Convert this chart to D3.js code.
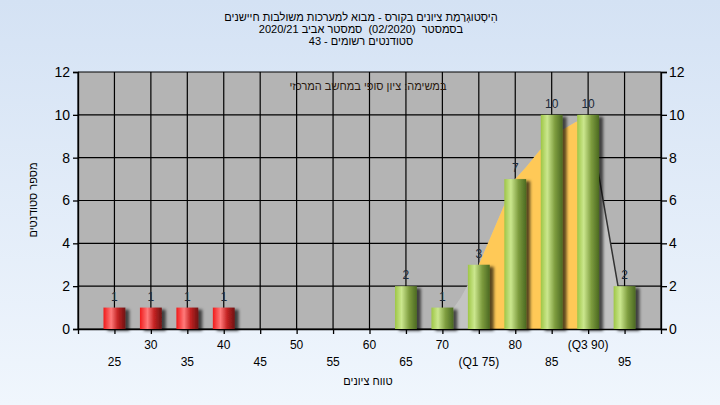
<!DOCTYPE html>
<html><head><meta charset="utf-8">
<script src="https://cdn.jsdelivr.net/npm/d3@7"></script>
<style>html,body{margin:0;padding:0;}svg{display:block;font-family:"Liberation Sans",Arial,sans-serif;}</style>
</head><body>
<svg id="chart" width="720" height="405"></svg>
<script>
// ---- data ----
const categories = [25,30,35,40,45,50,55,60,65,70,75,80,85,90,95];
const counts     = [1, 1, 1, 1, 0, 0, 0, 0, 2, 1, 3, 7, 10,10,2];
const failBelow = 55;
const q1 = 75, q3 = 90;
const yTicks = [0,2,4,6,8,10,12];
const xTicks = [20,25,30,35,40,45,50,55,60,65,70,75,80,85,90,95,100];
const upperRowLabels = [30,40,50,60,70,80,90];
const lowerRowLabels = [25,35,45,55,65,75,85,95];
const specialLabels = {75:"(Q1 75)", 90:"(Q3 90)"};
// distribution curve
const curveX = [69.5,72.5,74,75,80,81.5,83.4,86.5,88.3,89.6,90.3,91.3,94.1,95];
const curveY = [0,1.45,2.38,3,7,7.57,8.36,9.3,9.67,9.8,9.6,7.5,2,0.3];
const titleLines = ["הִיסְטוגְרַמַת ציונים בקורס - מבוא למערכות משולבות חיישנים",
                    "בסמסטר  (02/2020)  סמסטר אביב 2020/21",
                    "סטודנטים רשומים - 43"];
const subTitle = "במשימה: ציון סופי במחשב המרכזי";
const yTitle = "מספר סטודנטים";
const xTitle = "טווח ציונים";

// ---- layout ----
const svg = d3.select("#chart");
const L = 78, R = 661, T = 72, B = 329;
const x = d3.scaleLinear().domain([20,100]).range([L,R]);
const y = d3.scaleLinear().domain([0,12]).range([B,T]);

const defs = svg.append("defs");
const bg = defs.append("linearGradient").attr("id","bg").attr("x1",0).attr("y1",0).attr("x2",0).attr("y2",1);
bg.append("stop").attr("offset","0%").attr("stop-color","#d4e2f4");
bg.append("stop").attr("offset","100%").attr("stop-color","#f0f6fd");
function grad(id, stops){
  const g = defs.append("linearGradient").attr("id",id).attr("x1",0).attr("y1",0).attr("x2",1).attr("y2",0);
  stops.forEach(s=>g.append("stop").attr("offset",s[0]).attr("stop-color",s[1]));
}
grad("red",[["0%","#f01a1a"],["35%","#ff7a7a"],["65%","#c42222"],["100%","#6e1414"]]);
grad("green",[["0%","#9ec646"],["30%","#cbe78e"],["65%","#7d9c3e"],["100%","#4b6922"]]);
const f = defs.append("filter").attr("id","shadow").attr("x","-20%").attr("y","-10%").attr("width","160%").attr("height","130%");
f.append("feDropShadow").attr("dx",4).attr("dy",2).attr("stdDeviation",1.8).attr("flood-color","#000").attr("flood-opacity",0.65);
const clipY = defs.append("clipPath").attr("id","qclip");
clipY.append("rect").attr("x",x(q1)).attr("y",T).attr("width",x(q3)-x(q1)).attr("height",B-T);

svg.append("rect").attr("width",720).attr("height",405).attr("fill","url(#bg)");
svg.append("rect").attr("x",L).attr("y",T).attr("width",R-L).attr("height",B-T).attr("fill","#b4b4b4");

// grid
svg.append("g").selectAll("line").data(yTicks).join("line")
  .attr("x1",L).attr("x2",R).attr("y1",d=>y(d)).attr("y2",d=>y(d)).attr("stroke","#000").attr("stroke-width",1.2);
svg.append("g").selectAll("line").data(xTicks).join("line")
  .attr("x1",d=>x(d)).attr("x2",d=>x(d)).attr("y1",T).attr("y2",B).attr("stroke","#000").attr("stroke-width",1.2);

// distribution area
const pts = curveX.map((v,i)=>[v,curveY[i]]);
const area = d3.area().x(d=>x(d[0])).y0(y(0)).y1(d=>y(d[1]));
svg.append("path").datum(pts).attr("d",area).attr("fill","#c3c3c3");
svg.append("path").datum(pts).attr("d",area).attr("fill","#ffc957").attr("clip-path","url(#qclip)");
const tail = pts.filter(d=>d[0]>=q3);
svg.append("path").datum(tail).attr("d",d3.line().x(d=>x(d[0])).y(d=>y(d[1])))
  .attr("fill","none").attr("stroke","#333").attr("stroke-width",1.5);

// axes
const left = svg.append("g").attr("transform",`translate(${L},0)`)
  .call(d3.axisLeft(y).tickValues(yTicks).tickSize(5).tickPadding(3));
const right = svg.append("g").attr("transform",`translate(${R},0)`)
  .call(d3.axisRight(y).tickValues(yTicks).tickSize(6).tickPadding(2));
const bottom = svg.append("g").attr("transform",`translate(0,${B})`)
  .call(d3.axisBottom(x).tickValues(xTicks).tickSize(5).tickFormat(""));
[left,right,bottom].forEach(g=>{
  g.selectAll("path,line").attr("stroke","#000").attr("stroke-width",1.3);
  g.selectAll("text").attr("font-size",14).attr("fill","#000").attr("font-family","Liberation Sans, Arial, sans-serif");
});
bottom.select(".domain").attr("d",`M${L},0.5H${R}`);

// x labels (two rows)
svg.append("g").selectAll("text").data(upperRowLabels).join("text")
  .attr("x",d=>x(d)).attr("y",349).attr("text-anchor","middle").attr("font-size",12)
  .text(d=>specialLabels[d]||d);
svg.append("g").selectAll("text").data(lowerRowLabels).join("text")
  .attr("x",d=>x(d)).attr("y",366).attr("text-anchor","middle").attr("font-size",12)
  .text(d=>specialLabels[d]||d);

// bars
const bw = 3.0;
const data = categories.map((c,i)=>({c, v:counts[i]})).filter(d=>d.v>0);
svg.append("g").selectAll("rect").data(data).join("rect")
  .attr("x",d=>x(d.c-bw/2)).attr("width",d=>x(d.c+bw/2)-x(d.c-bw/2))
  .attr("y",d=>y(d.v)).attr("height",d=>y(0)-y(d.v))
  .attr("fill",d=>d.c<failBelow?"url(#red)":"url(#green)")
  .attr("filter","url(#shadow)");
svg.append("g").selectAll("text").data(data).join("text")
  .attr("x",d=>x(d.c)).attr("y",d=>y(d.v)-7).attr("text-anchor","middle")
  .attr("font-size",12).attr("fill","#1c2a3a").text(d=>d.v);

// titles
svg.append("g").selectAll("text").data(titleLines).join("text")
  .attr("x",361).attr("y",(d,i)=>21+i*12).attr("text-anchor","middle")
  .attr("direction","rtl").style("white-space","pre").attr("font-size",11).attr("fill","#000").text(d=>d);
svg.append("text").attr("x",368).attr("y",90).attr("text-anchor","middle").attr("direction","rtl")
  .attr("font-size",11).attr("fill","#2a1a10").text(subTitle);
svg.append("text").attr("transform","translate(37,200) rotate(-90)").attr("text-anchor","middle")
  .attr("direction","rtl").attr("font-size",11).attr("fill","#000").text(yTitle);
svg.append("text").attr("x",368).attr("y",385).attr("text-anchor","middle").attr("direction","rtl")
  .attr("font-size",11).attr("fill","#000").text(xTitle);
</script>
</body></html>
